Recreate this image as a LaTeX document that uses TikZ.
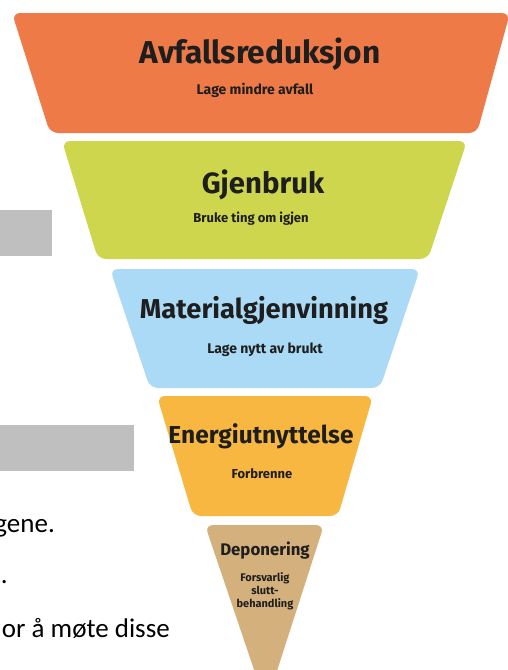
\documentclass[tikz,border=0pt]{standalone}
\usepackage{fontspec}
\newfontfamily\pyrfont{Fira Sans}
\newfontfamily\bodyfont{Carlito}
\definecolor{cOrange}{RGB}{238,122,72}
\definecolor{cGreen}{RGB}{205,214,76}
\definecolor{cBlue}{RGB}{170,218,245}
\definecolor{cYellow}{RGB}{247,183,64}
\definecolor{cTan}{RGB}{212,176,125}
\definecolor{cGray}{RGB}{191,191,191}
\definecolor{cInk}{RGB}{30,30,30}
\tikzset{
  layer/.style={rounded corners=8pt},
  ttl/.style={anchor=base, inner sep=0pt, text=cInk, font=\pyrfont\bfseries\fontsize{#1}{#1}\selectfont},
  sub/.style={anchor=base, inner sep=0pt, text=cInk, font=\pyrfont\bfseries\fontsize{#1}{#1}\selectfont},
  body/.style={anchor=base east, inner sep=0pt, text=black, font=\bodyfont\fontsize{27}{27}\selectfont},
  graybox/.style={fill=cGray, draw=none}
}
\begin{document}
\begin{tikzpicture}[x=1pt,y=-1pt]
\useasboundingbox (0,0) rectangle (508,670);
% layers
\fill[cOrange, layer] (12,13) -- (510,13) -- (477,133) -- (50,133) -- cycle;
\fill[cGreen, layer] (62,141) -- (467,141) -- (428,259) -- (98,259) -- cycle;
\fill[cBlue, layer] (110,269) -- (420,269) -- (380,388) -- (150,388) -- cycle;
\fill[cYellow, layer] (157,396) -- (373,396) -- (338,516) -- (193,516) -- cycle;
\fill[cTan, layer] (205,525) -- (324,525) -- (266,705) -- cycle;
% gray boxes
\fill[graybox] (0,210) rectangle (52,256);
\fill[graybox] (0,425) rectangle (134,471);
% titles
\node[ttl=31.6] (t1) at (260,63) {Avfallsreduksjon};
\node[sub=14] (s1) at (255,94) {Lage mindre avfall};
\node[ttl=29.3] (t2) at (263,193) {Gjenbruk};
\node[sub=13] (s2) at (251,222) {Bruke ting om igjen};
\node[ttl=27.3] (t3) at (264,318) {Materialgjenvinning};
\node[sub=14] (s3) at (265,353) {Lage nytt av brukt};
\node[ttl=24.5] (t4) at (261,443) {Energiutnyttelse};
\node[sub=13] (s4) at (262,478) {Forbrenne};
\node[ttl=16.8] (t5) at (265,555) {Deponering};
\node[sub=11] (s5a) at (265,581) {Forsvarlig};
\node[sub=11] (s5b) at (265,594) {slutt-};
\node[sub=11] (s5c) at (265,607) {behandling};
% body text fragments
\node[body] (b1) at (55,532) {gene.};
\node[body] (b2) at (8,583) {.};
\node[body] (b3) at (170,637) {or å møte disse};
\end{tikzpicture}
\end{document}
